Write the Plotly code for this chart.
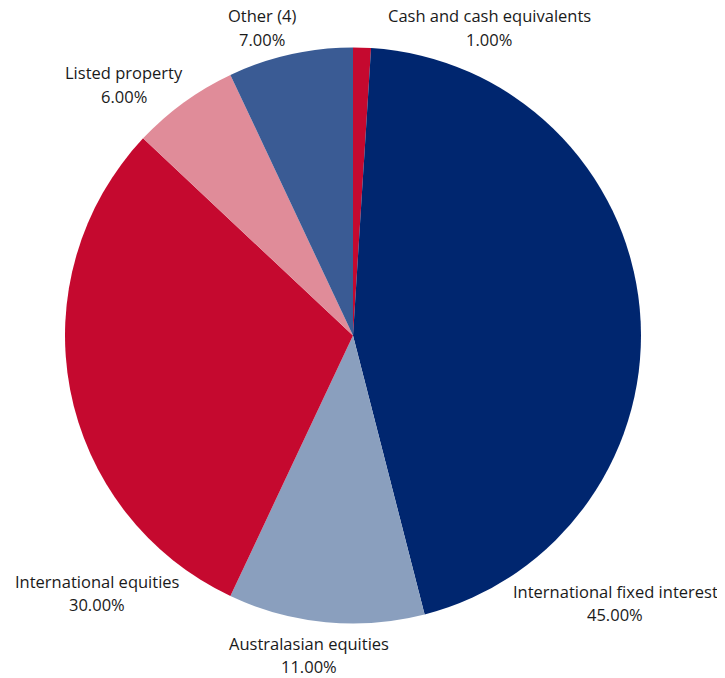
import plotly.graph_objects as go

labels = ["Cash and cash equivalents", "International fixed interest", "Australasian equities",
          "International equities", "Listed property", "Other (4)"]
values = [1, 45, 11, 30, 6, 7]
colors = ["#C5092F", "#00266F", "#8A9FBE", "#C5092F", "#E08C99", "#3A5B94"]

W, H = 725, 678
OFF = 8  # page body margin offset
# label anchor positions (pixel centre of name line), layout only
label_pos = [(489, 16), (615, 591), (309, 643), (97, 581), (124, 73), (262, 16)]

fig = go.Figure(go.Pie(
    labels=labels, values=values, sort=False, direction="clockwise", rotation=0,
    marker=dict(colors=colors, line=dict(width=0)),
    textinfo="none", hoverinfo="label+percent", showlegend=False,
    domain=dict(x=[(65 - OFF) / W, (641 - OFF) / W], y=[1 - (624 - OFF) / H, 1 - (47 - OFF) / H]),
))

total = sum(values)
font = dict(family="Open Sans", size=16.5, color="#1a1a1a")
for lab, v, (px, py) in zip(labels, values, label_pos):
    px -= OFF
    py -= OFF
    fig.add_annotation(x=px / W, y=1 - py / H, xref="paper", yref="paper",
                       text=lab, showarrow=False, font=font, xanchor="center", yanchor="middle")
    fig.add_annotation(x=px / W, y=1 - (py + 23) / H, xref="paper", yref="paper",
                       text=f"{v / total * 100:.2f}%", showarrow=False, font=font,
                       xanchor="center", yanchor="middle")

fig.update_layout(width=W, height=H, margin=dict(l=0, r=0, t=0, b=0),
                  paper_bgcolor="white", plot_bgcolor="white")
fig.write_html("out.html")
